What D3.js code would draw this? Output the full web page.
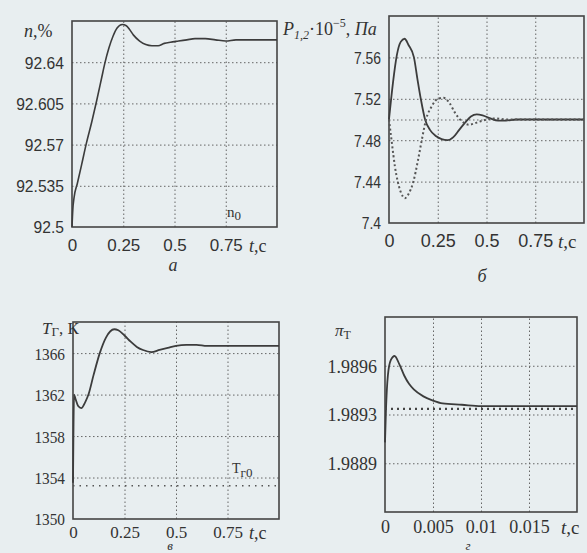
<!DOCTYPE html>
<html>
<head>
<meta charset="utf-8">
<script src="https://cdnjs.cloudflare.com/ajax/libs/d3/7.8.5/d3.min.js"></script>
<style>
  body { margin: 0; background: #e8eef0; }
  svg { display: block; }
  .grid line { stroke: #666; stroke-width: 1; stroke-dasharray: 1.5 2.5; }
  .grid .domain { display: none; }
  .lbl .domain { display: none; }
  .lbl text { fill: #333; }
</style>
</head>
<body>
<div id="chart"></div>
<script>

// panel a: efficiency n, %
var tA = [0, 0.004, 0.01, 0.026, 0.047, 0.07, 0.096, 0.12, 0.145, 0.16, 0.18, 0.2, 0.22, 0.245,
          0.265, 0.28, 0.3, 0.33, 0.36, 0.39, 0.42, 0.45, 0.48, 0.52, 0.56, 0.6, 0.65, 0.7, 0.75, 0.8, 0.9, 1.0];
var nA = [92.5, 92.515, 92.525, 92.537, 92.553, 92.571, 92.589, 92.607, 92.627, 92.639, 92.652, 92.662, 92.669, 92.672,
          92.671, 92.668, 92.663, 92.658, 92.655, 92.654, 92.654, 92.656, 92.657, 92.658, 92.659, 92.66, 92.66, 92.659, 92.658, 92.659, 92.659, 92.659];
var yTicksA = [92.5, 92.535, 92.57, 92.605, 92.64];

// panel b: pressures P1, P2
var tP1 = [0, 0.02, 0.04, 0.06, 0.08, 0.1, 0.128, 0.145, 0.163, 0.185, 0.21, 0.24, 0.27, 0.3, 0.33, 0.36, 0.39,
           0.42, 0.45, 0.48, 0.52, 0.56, 0.6, 0.65, 0.7, 0.8, 0.9, 1.0];
var p1 = [7.5, 7.535, 7.562, 7.575, 7.578, 7.572, 7.56, 7.54, 7.52, 7.5, 7.49, 7.484, 7.481, 7.48, 7.483, 7.49, 7.497,
          7.503, 7.505, 7.504, 7.501, 7.499, 7.499, 7.5, 7.5, 7.5, 7.5, 7.5];
var tP2 = [0, 0.015, 0.03, 0.045, 0.06, 0.082, 0.1, 0.125, 0.148, 0.168, 0.19, 0.22, 0.25, 0.28, 0.31, 0.34, 0.37,
           0.41, 0.45, 0.5, 0.55, 0.6, 0.7, 0.8, 0.9, 1.0];
var p2 = [7.5, 7.477, 7.455, 7.44, 7.43, 7.424, 7.428, 7.44, 7.46, 7.48, 7.5, 7.513, 7.52, 7.521, 7.516, 7.506, 7.499,
          7.495, 7.497, 7.5, 7.501, 7.5, 7.5, 7.5, 7.5, 7.5];
var pRef = 7.5;
var yTicksB = [7.4, 7.44, 7.48, 7.52, 7.56];

// panel v: gas temperature
var tT = [0, 0.002, 0.005, 0.012, 0.025, 0.04, 0.06, 0.075, 0.1, 0.13, 0.16, 0.2, 0.22, 0.25, 0.28, 0.31, 0.34,
          0.38, 0.42, 0.46, 0.5, 0.55, 0.6, 0.65, 0.7, 0.8, 0.9, 1.0];
var tempT = [1353.5, 1358, 1362, 1361.6, 1360.9, 1360.7, 1361.3, 1362, 1363.9, 1366, 1367.5, 1368.3, 1368.2, 1367.7,
             1367.1, 1366.6, 1366.3, 1366.1, 1366.3, 1366.5, 1366.7, 1366.8, 1366.8, 1366.7, 1366.7, 1366.7, 1366.7, 1366.7];
var tempRef = 1353.2;
var yTicksV = [1350, 1354, 1358, 1362, 1366];

// panel g: turbine pressure ratio
var tPi = [0, 0.0001, 0.0003, 0.0006, 0.001, 0.0015, 0.002, 0.0025, 0.003, 0.004, 0.005, 0.006, 0.008, 0.01, 0.015, 0.02];
var pi = [1.98907, 1.9893, 1.98955, 1.98966, 1.98969, 1.98963, 1.98955, 1.98949, 1.98945, 1.98940, 1.98937,
          1.98935, 1.98934, 1.98933, 1.98933, 1.98933];
var piRef = 1.98931;
var yTicksG = [1.98892, 1.98927, 1.98962];

var xTicks1 = [0, 0.25, 0.5, 0.75];
var xTicks2 = [0, 0.005, 0.01, 0.015];

var svg = d3.select("#chart")
    .append("svg")
        .attr("width", 587)
        .attr("height", 553);

function drawPanel(p) {
    var g = svg.append("g");
    var x = d3.scaleLinear().domain(p.xDomain).range([p.left, p.right]);
    var y = d3.scaleLinear().domain(p.yDomain).range([p.bottom, p.top]);

    // dotted grid
    g.append("g")
        .attr("class", "grid")
        .attr("transform", "translate(0," + p.bottom + ")")
        .call(d3.axisBottom(x).tickValues(p.xTicks.slice(1)).tickSize(p.top - p.bottom).tickFormat(""));
    g.append("g")
        .attr("class", "grid")
        .attr("transform", "translate(" + p.left + ",0)")
        .call(d3.axisLeft(y).tickValues(p.gridY).tickSize(p.left - p.right).tickFormat(""));

    // frame
    g.append("rect")
        .attr("x", p.left).attr("y", p.top)
        .attr("width", p.right - p.left).attr("height", p.bottom - p.top)
        .attr("fill", "none").attr("stroke", "#444").attr("stroke-width", 1.6);

    // tick labels
    var ya = g.append("g")
        .attr("class", "lbl")
        .attr("transform", "translate(" + (p.left - 8) + ",0)")
        .call(d3.axisLeft(y).tickValues(p.yTicks).tickSize(0).tickPadding(0).tickFormat(p.yFormat));
    ya.selectAll("text")
        .style("font-family", p.font).style("font-size", p.yFont + "px")
        .attr("transform", "scale(" + p.yStretch + ",1)")
        .attr("x", 0);
    ya.selectAll(".tick").attr("transform", function(d) {
        return "translate(0," + (y(d) + 1) + ")";
    });

    var xa = g.append("g")
        .attr("class", "lbl")
        .attr("transform", "translate(0," + (p.bottom + p.xPad) + ")")
        .call(d3.axisBottom(x).tickValues(p.xTicks).tickSize(0).tickPadding(0).tickFormat(d3.format("")));
    xa.selectAll("text")
        .style("font-family", p.font).style("font-size", p.xFont + "px");

    // t, c label
    var tl = g.append("text")
        .attr("x", p.tX).attr("y", p.bottom + p.xPad + p.xFont * 0.75)
        .attr("fill", "#333")
        .style("font-family", "Liberation Serif").style("font-size", (p.xFont + 1) + "px");
    tl.append("tspan").style("font-style", "italic").text("t");
    tl.append("tspan").text(",c");

    // caption letter
    g.append("text")
        .attr("x", p.capX).attr("y", p.capY)
        .attr("text-anchor", "middle").attr("fill", "#333")
        .style("font-family", "Liberation Serif").style("font-style", "italic").style("font-size", p.capFont + "px")
        .text(p.caption);

    var line = d3.line()
        .x(function(d) { return x(d[0]); })
        .y(function(d) { return y(d[1]); })
        .curve(d3.curveMonotoneX);

    p.series.forEach(function(s) {
        g.append("path")
            .attr("d", line(d3.zip(s.t, s.v)))
            .attr("fill", "none")
            .attr("stroke", s.color || "#3c3c3c")
            .attr("stroke-width", s.width || 1.6)
            .attr("stroke-dasharray", s.dash || null);
    });

    return {g: g, x: x, y: y};
}

// a
var pa = drawPanel({
    left: 72, right: 277, top: 21, bottom: 227,
    xDomain: [0, 1], yDomain: [92.5, 92.675],
    xTicks: xTicks1, yTicks: yTicksA, gridY: yTicksA.slice(1),
    yFormat: d3.format(""), font: "Liberation Sans", yFont: 17, yStretch: 0.92, xFont: 17, xPad: 12,
    tX: 249, capX: 173, capY: 271, capFont: 18, caption: "a",
    series: [{t: tA, v: nA}]
});
pa.g.append("text").attr("x", 24).attr("y", 37).attr("fill", "#333")
    .style("font-family", "Liberation Serif").style("font-size", "18px")
    .html("<tspan font-style='italic'>n</tspan>,%");
pa.g.append("text").attr("x", 227).attr("y", 217).attr("fill", "#333")
    .style("font-family", "Liberation Serif").style("font-size", "15px")
    .html("n<tspan dy='3' font-size='13px'>0</tspan>");

// b
var pb = drawPanel({
    left: 389, right: 584, top: 16, bottom: 223,
    xDomain: [0, 1], yDomain: [7.4, 7.6],
    xTicks: xTicks1, yTicks: yTicksB, gridY: yTicksB.slice(1).concat([pRef]),
    yFormat: d3.format(""), font: "Liberation Sans", yFont: 17, yStretch: 0.82, xFont: 18, xPad: 11,
    tX: 558, capX: 482, capY: 282, capFont: 18, caption: "б",
    series: [{t: tP1, v: p1, width: 1.8}, {t: tP2, v: p2, width: 2, dash: "2 2.5", color: "#555"}]
});
pb.g.append("text").attr("x", 283).attr("y", 35).attr("fill", "#333")
    .style("font-family", "Liberation Serif").style("font-size", "18px")
    .html("<tspan font-style='italic'>P</tspan><tspan font-size='12px' dy='4' font-style='italic'>1,2</tspan>" +
          "<tspan dy='-4'>·10</tspan><tspan font-size='12px' dy='-8'>−5</tspan>" +
          "<tspan dy='8'>, </tspan><tspan font-style='italic'>Па</tspan>");

// v
var pv = drawPanel({
    left: 73, right: 279, top: 322, bottom: 519,
    xDomain: [0, 1], yDomain: [1350, 1369],
    xTicks: xTicks1, yTicks: yTicksV, gridY: yTicksV.slice(1),
    yFormat: d3.format(""), font: "Liberation Serif", yFont: 17, yStretch: 0.9, xFont: 17, xPad: 7,
    tX: 249, capX: 170, capY: 550, capFont: 13, caption: "в",
    series: [{t: tT, v: tempT, width: 1.8},
             {t: [0, 1], v: [tempRef, tempRef], width: 1.6, dash: "1.5 5", color: "#555"}]
});
pv.g.append("text").attr("x", 42).attr("y", 334).attr("fill", "#333")
    .style("font-family", "Liberation Serif").style("font-size", "17px")
    .html("<tspan font-style='italic'>T</tspan><tspan font-size='13px' dy='2'>Г</tspan><tspan dy='-2'>, К</tspan>");
pv.g.append("text").attr("x", 232).attr("y", 473).attr("fill", "#333")
    .style("font-family", "Liberation Serif").style("font-size", "14px")
    .html("T<tspan dy='4' font-size='13px'>г0</tspan>");

// g
var pg = drawPanel({
    left: 385, right: 577, top: 317, bottom: 512,
    xDomain: [0, 0.02], yDomain: [1.98857, 1.98997],
    xTicks: xTicks2, yTicks: yTicksG, gridY: yTicksG,
    yFormat: d3.format(".4f"), font: "Liberation Serif", yFont: 18, yStretch: 1, xFont: 18, xPad: 8,
    tX: 561, capX: 468, capY: 550, capFont: 13, caption: "г",
    series: [{t: tPi, v: pi, width: 1.8},
             {t: [0, 0.02], v: [piRef, piRef], width: 2.2, dash: "2 4", color: "#444"}]
});
pg.g.append("text").attr("x", 335).attr("y", 336).attr("fill", "#333")
    .style("font-family", "Liberation Serif").style("font-size", "17px")
    .html("<tspan font-style='italic'>π</tspan><tspan font-size='12px' dy='3'>Т</tspan>");

</script>
</body>
</html>
